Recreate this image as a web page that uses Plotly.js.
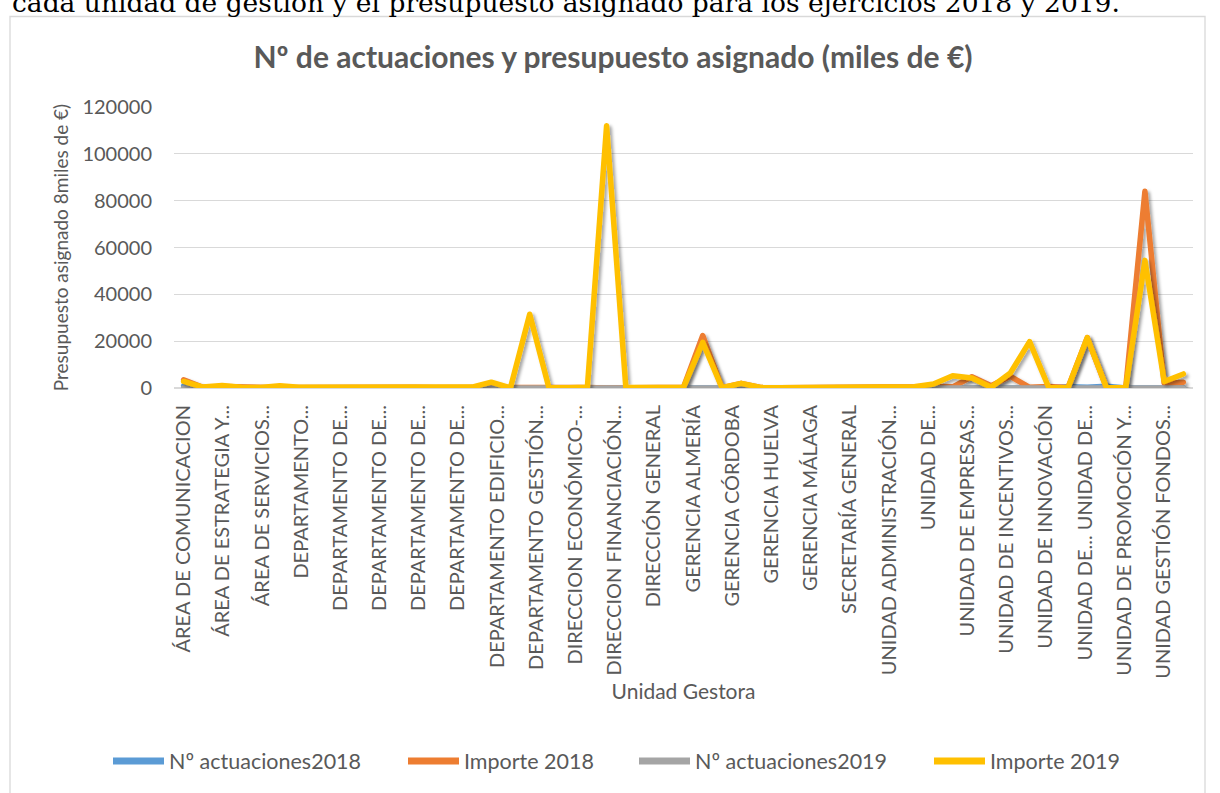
<!DOCTYPE html>
<html>
<head>
<meta charset="utf-8">
<script src="https://cdn.plot.ly/plotly-3.0.1.min.js"></script>
<style>
html,body{margin:0;padding:0;background:#fff;}
#chart{width:1220px;height:793px;}
.scatterlayer .js-line{stroke-linejoin:round;stroke-linecap:round;}
</style>
</head>
<body>
<div id="chart"></div>
<script>
// ---- data ----
const categoryLabels = [
  "ÁREA DE COMUNICACION", "ÁREA DE ESTRATEGIA Y...", "ÁREA DE SERVICIOS...",
  "DEPARTAMENTO...", "DEPARTAMENTO DE...", "DEPARTAMENTO DE...", "DEPARTAMENTO DE...",
  "DEPARTAMENTO DE...", "DEPARTAMENTO EDIFICIO...", "DEPARTAMENTO GESTIÓN...",
  "DIRECCION ECONÓMICO-...", "DIRECCION FINANCIACIÓN...", "DIRECCIÓN GENERAL",
  "GERENCIA ALMERÍA", "GERENCIA CÓRDOBA", "GERENCIA HUELVA", "GERENCIA MÁLAGA",
  "SECRETARÍA GENERAL", "UNIDAD ADMINISTRACIÓN...", "UNIDAD DE...",
  "UNIDAD DE EMPRESAS...", "UNIDAD DE INCENTIVOS...", "UNIDAD DE INNOVACIÓN",
  "UNIDAD DE... UNIDAD DE...", "UNIDAD DE PROMOCIÓN Y...", "UNIDAD GESTIÓN FONDOS..."
];

const nActuaciones2018 = [
  900, 12, 8, 5, 6, 4, 7, 5, 6, 4,
  5, 6, 4, 8, 5, 6, 10, 4, 3, 2,
  5, 4, 3, 6, 5, 4, 6, 20, 5, 8,
  4, 3, 5, 4, 6, 5, 8, 10, 12, 15,
  20, 25, 10, 30, 20, 15, 500, 300, 700, 10,
  40, 15, 20
];
const importe2018 = [
  3500, 300, 600, 300, 200, 100, 200, 300, 250, 300,
  300, 250, 300, 250, 300, 300, 300, 100, 0, 0,
  200, 200, 0, 200, 200, 200, 300, 22400, 100, 2000,
  200, 100, 100, 100, 100, 200, 300, 400, 500, 800,
  500, 4800, 1000, 5000, 300, 600, 200, 21500, 100, 100,
  84000, 2000, 2500
];
const nActuaciones2019 = [
  30, 10, 6, 4, 5, 3, 6, 4, 5, 3,
  4, 5, 3, 6, 4, 5, 8, 3, 4, 2,
  4, 3, 4, 5, 4, 3, 5, 18, 4, 7,
  3, 2, 4, 3, 5, 4, 7, 9, 10, 12,
  18, 22, 9, 25, 18, 12, 20, 15, 10, 8,
  35, 12, 18
];
const importe2019 = [
  2800, 400, 1100, 300, 200, 1000, 300, 300, 300, 300,
  400, 300, 300, 300, 300, 400, 2500, 100, 31500, 100,
  100, 300, 112000, 200, 200, 200, 300, 19500, 100, 2000,
  200, 100, 100, 100, 100, 200, 300, 400, 500, 1700,
  5200, 4300, 300, 6400, 19800, 100, 100, 21500, 100, 100,
  54500, 2800, 6000
];

const seriesNames = ["Nº actuaciones2018", "Importe 2018", "Nº actuaciones2019", "Importe 2019"];
const seriesData = [nActuaciones2018, importe2018, nActuaciones2019, importe2019];
const seriesColors = ["#5B9BD5", "#ED7D31", "#A5A5A5", "#FFC000"];

const chartTitle = "Nº de actuaciones y presupuesto asignado (miles de €)";
const xTitle = "Unidad Gestora";
const yTitle = "Presupuesto asignado 8miles de €)";
const headerText = "cada unidad de gestión y el presupuesto asignado para los ejercicios 2018 y 2019.";

// ---- layout geometry ----
const W = 1220, H = 793;
const M = {l: 174, r: 27, t: 107, b: 405};
const PW = W - M.l - M.r, PH = H - M.t - M.b;
const px2x = p => (p - M.l) / PW;
const px2y = p => (H - M.b - p) / PH;

const nCat = importe2019.length;
const xIdx = importe2019.map((_, i) => i);
const tickVals = categoryLabels.map((_, k) => k * nCat / categoryLabels.length);

const textColor = "#595959";
const FONT = "Lato, 'Open Sans', sans-serif";
const legendLineStarts = [114, 409, 640, 935];
const legendIds = ["legend", "legend2", "legend3", "legend4"];

const traces = seriesData.map((ys, s) => ({
  type: "scatter",
  mode: "lines",
  name: seriesNames[s],
  legend: legendIds[s],
  x: xIdx,
  y: ys,
  line: {color: seriesColors[s], width: 5.5},
  hoverinfo: "name+y"
}));

const layout = {
  width: W, height: H,
  margin: M,
  paper_bgcolor: "#ffffff",
  plot_bgcolor: "#ffffff",
  font: {family: FONT, color: textColor, size: 18},
  title: {
    text: "<b>" + chartTitle + "</b>",
    font: {family: FONT, size: 30, color: textColor},
    xref: "container", yref: "container",
    x: 613 / W, y: 1 - 57 / H, xanchor: "center", yanchor: "middle"
  },
  xaxis: {
    range: [-0.5, nCat - 0.5],
    tickmode: "array",
    tickvals: tickVals,
    ticktext: categoryLabels,
    tickangle: -90,
    tickfont: {family: FONT, size: 20, color: textColor},
    showgrid: false, zeroline: false, showline: false,
    ticks: "",
    ticklabelstandoff: 12,
    title: {text: xTitle, font: {family: FONT, size: 21, color: textColor}, standoff: 6},
    fixedrange: true
  },
  yaxis: {
    range: [0, 120000],
    dtick: 20000,
    tickformat: "d",
    tickfont: {family: FONT, size: 20, color: textColor},
    showgrid: true, gridcolor: "#d9d9d9", gridwidth: 1.3,
    zeroline: true, zerolinecolor: "#d9d9d9", zerolinewidth: 1.3,
    showline: false, ticks: "",
    ticklabelstandoff: 21,
    title: {text: yTitle, font: {family: FONT, size: 19, color: textColor}, standoff: 8},
    fixedrange: true
  },
  showlegend: true,
  annotations: [{
    text: headerText,
    xref: "paper", yref: "paper",
    x: px2x(10), y: px2y(2),
    xanchor: "left", yanchor: "middle",
    showarrow: false,
    font: {family: "'DejaVu Serif', serif", size: 26.5, color: "#000000"}
  }],
  shapes: [{
    type: "rect", xref: "paper", yref: "paper", layer: "below",
    x0: px2x(10), x1: px2x(1205), y0: px2y(16.5), y1: px2y(820),
    line: {color: "#d9d9d9", width: 1.3},
    fillcolor: "rgba(0,0,0,0)"
  }]
};

legendIds.forEach((id, s) => {
  layout[id] = {
    orientation: "h",
    x: px2x(legendLineStarts[s] - 6), xanchor: "left",
    y: px2y(761), yanchor: "middle",
    font: {family: FONT, size: 21.5, color: textColor},
    itemwidth: 51,
    bgcolor: "rgba(0,0,0,0)",
    borderwidth: 0
  };
});

const gd = document.getElementById("chart");
Plotly.newPlot(gd, traces, layout, {displayModeBar: false, staticPlot: true}).then(() => {
  const NS = "http://www.w3.org/2000/svg";
  const svg = gd.querySelector("svg.main-svg");
  let defs = svg.querySelector("defs");
  if (!defs) { defs = document.createElementNS(NS, "defs"); svg.insertBefore(defs, svg.firstChild); }
  const f = document.createElementNS(NS, "filter");
  f.setAttribute("id", "lineShadow");
  f.setAttribute("filterUnits", "userSpaceOnUse");
  f.setAttribute("x", "-500"); f.setAttribute("y", "-500");
  f.setAttribute("width", "3000"); f.setAttribute("height", "3000");
  const ds = document.createElementNS(NS, "feDropShadow");
  ds.setAttribute("dx", "2.5"); ds.setAttribute("dy", "2.5");
  ds.setAttribute("stdDeviation", "1.6");
  ds.setAttribute("flood-color", "#000");
  ds.setAttribute("flood-opacity", "0.35");
  f.appendChild(ds);
  defs.appendChild(f);
  gd.querySelectorAll(".scatterlayer path.js-line").forEach(p => p.setAttribute("filter", "url(#lineShadow)"));
  // legend swatches: longer, thicker line like the reference
  gd.querySelectorAll(".legendlines path").forEach(p => {
    p.setAttribute("d", "M5,0h51");
    p.style.strokeWidth = "7px";
  });
});
</script>
</body>
</html>
